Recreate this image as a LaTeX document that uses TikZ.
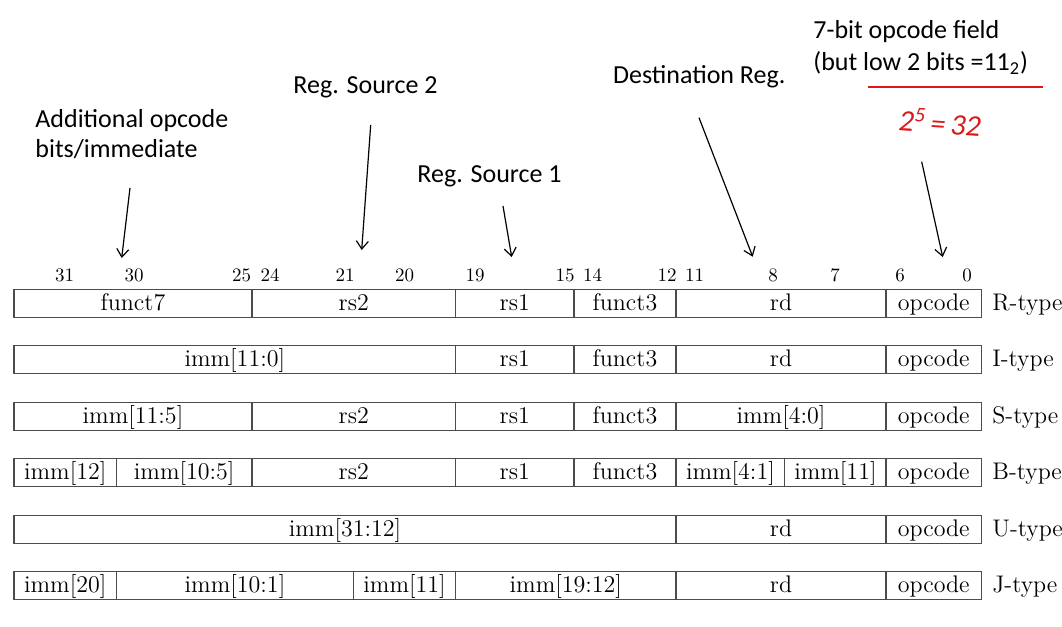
\documentclass[tikz,border=0pt]{standalone}
\usepackage{fontspec}
\newfontfamily\calibri{Carlito}
\usetikzlibrary{arrows.meta}
\definecolor{inkred}{RGB}{220,25,25}
\tikzset{
    fld/.style={draw=black!70, line width=0.65pt, rectangle, minimum height=14pt, inner sep=0pt, outer sep=0pt,
        text height=9pt, text depth=2pt, font=\fontsize{12}{14}\selectfont},
    bitno/.style={anchor=base, inner sep=0pt, font=\fontsize{9.5}{11}\selectfont},
    fmt/.style={anchor=west, inner sep=0pt, text height=9pt, text depth=2pt, font=\fontsize{12}{14}\selectfont},
    note/.style={inner sep=0pt, align=left, font=\calibri\fontsize{13}{15}\selectfont},
    ptr/.style={-{Straight Barb[length=4pt,width=6pt]}, line width=0.6pt},
}
\begin{document}
\begin{tikzpicture}[x=0.5pt, y=-0.5pt]
        \useasboundingbox (0,0) rectangle (1062,627);

        % Bit numbers
        \node[bitno] (b31) at (64.7,281) {31};
        \node[bitno] (b30) at (134,281) {30};
        \node[bitno] (b25) at (241.7,281) {25};
        \node[bitno] (b24) at (270,281) {24};
        \node[bitno] (b21) at (345,281) {21};
        \node[bitno] (b20) at (404.6,281) {20};
        \node[bitno] (b19) at (475,281) {19};
        \node[bitno] (b15) at (565,281) {15};
        \node[bitno] (b14) at (592.6,281) {14};
        \node[bitno] (b12) at (667,281) {12};
        \node[bitno] (b11) at (694.6,281) {11};
        \node[bitno] (b8) at (773,281) {8};
        \node[bitno] (b7) at (835,281) {7};
        \node[bitno] (b6) at (900,281) {6};
        \node[bitno] (b0) at (967,281) {0};

        % R-type
        \node[fld, minimum width=119pt] (rF7) at (133,303.3) {funct7};
        \node[fld, minimum width=101.8pt] (rRs2) at (353.8,303.3) {rs2};
        \node[fld, minimum width=59.2pt] (rRs1) at (514.8,303.3) {rs1};
        \node[fld, minimum width=51pt] (rF3) at (625,303.3) {funct3};
        \node[fld, minimum width=105pt] (rRd) at (781,303.3) {rd};
        \node[fld, minimum width=47.75pt] (rOp) at (933.75,303.3) {opcode};
        \node[fmt] (rT) at (992,303.3) {R-type};

        % I-type
        \node[fld, minimum width=220.8pt] (iImm) at (234.8,359.8) {imm[11:0]};
        \node[fld, minimum width=59.2pt] (iRs1) at (514.8,359.8) {rs1};
        \node[fld, minimum width=51pt] (iF3) at (625,359.8) {funct3};
        \node[fld, minimum width=105pt] (iRd) at (781,359.8) {rd};
        \node[fld, minimum width=47.75pt] (iOp) at (933.75,359.8) {opcode};
        \node[fmt] (iT) at (992,359.8) {I-type};

        % S-type
        \node[fld, minimum width=119pt] (sImmH) at (133,416.3) {imm[11:5]};
        \node[fld, minimum width=101.8pt] (sRs2) at (353.8,416.3) {rs2};
        \node[fld, minimum width=59.2pt] (sRs1) at (514.8,416.3) {rs1};
        \node[fld, minimum width=51pt] (sF3) at (625,416.3) {funct3};
        \node[fld, minimum width=105pt] (sImmL) at (781,416.3) {imm[4:0]};
        \node[fld, minimum width=47.75pt] (sOp) at (933.75,416.3) {opcode};
        \node[fmt] (sT) at (992,416.3) {S-type};

        % B-type
        \node[fld, minimum width=51.2pt] (bImm12) at (65.2,472.8) {imm[12]};
        \node[fld, minimum width=67.8pt] (bImmH) at (184.2,472.8) {imm[10:5]};
        \node[fld, minimum width=101.8pt] (bRs2) at (353.8,472.8) {rs2};
        \node[fld, minimum width=59.2pt] (bRs1) at (514.8,472.8) {rs1};
        \node[fld, minimum width=51pt] (bF3) at (625,472.8) {funct3};
        \node[fld, minimum width=54.4pt] (bImmL) at (730.4,472.8) {imm[4:1]};
        \node[fld, minimum width=50.6pt] (bImm11) at (835.4,472.8) {imm[11]};
        \node[fld, minimum width=47.75pt] (bOp) at (933.75,472.8) {opcode};
        \node[fmt] (bT) at (992,472.8) {B-type};

        % U-type
        \node[fld, minimum width=331pt] (uImm) at (345,529.3) {imm[31:12]};
        \node[fld, minimum width=105pt] (uRd) at (781,529.3) {rd};
        \node[fld, minimum width=47.75pt] (uOp) at (933.75,529.3) {opcode};
        \node[fmt] (uT) at (992,529.3) {U-type};

        % J-type
        \node[fld, minimum width=51.2pt] (jImm20) at (65.2,585.8) {imm[20]};
        \node[fld, minimum width=118.6pt] (jImmL) at (235,585.8) {imm[10:1]};
        \node[fld, minimum width=51pt] (jImm11) at (404.6,585.8) {imm[11]};
        \node[fld, minimum width=110.2pt] (jImmH) at (565.8,585.8) {imm[19:12]};
        \node[fld, minimum width=105pt] (jRd) at (781,585.8) {rd};
        \node[fld, minimum width=47.75pt] (jOp) at (933.75,585.8) {opcode};
        \node[fmt] (jT) at (992,585.8) {J-type};

        % Callouts
        \node[note, anchor=north west] (addl) at (35,109.5) {Additional opcode\\bits/immediate};
        \node[note, anchor=base west] (src2) at (293,93.3) {Reg. Source 2};
        \node[note, anchor=base west] (src1) at (417,182.7) {Reg. Source 1};
        \node[note, anchor=base west] (dest) at (612.7,83) {Destination Reg.};
        \node[note, anchor=north west, font=\calibri\fontsize{13}{16}\selectfont] (opc) at (813,20.3)
            {7-bit opcode field\\(but low 2 bits =11\textsubscript{2})};
        \node[inner sep=0pt, text=inkred, rotate=-4, font=\calibri\itshape\fontsize{15}{18}\selectfont]
            (pow) at (940,122) {2\textsuperscript{5}\,=\,32};
        \coordinate (ulA) at (868,87.3);
        \coordinate (ulB) at (1043,87.3);
        \draw[draw=inkred, line width=0.9pt] (ulA) -- (ulB);

        \coordinate (addlA) at (130,188);
        \coordinate (addlB) at (121.7,258);
        \coordinate (src2A) at (370.7,125);
        \coordinate (src2B) at (361.7,250);
        \coordinate (src1A) at (503,206);
        \coordinate (src1B) at (511.7,257);
        \coordinate (destA) at (699,117.7);
        \coordinate (destB) at (752.7,256.7);
        \coordinate (opcA) at (921.7,161.7);
        \coordinate (opcB) at (942.7,257);
        \draw[ptr] (addlA) -- (addlB);
        \draw[ptr] (src2A) -- (src2B);
        \draw[ptr] (src1A) -- (src1B);
        \draw[ptr] (destA) -- (destB);
        \draw[ptr] (opcA) -- (opcB);
\end{tikzpicture}
\end{document}
